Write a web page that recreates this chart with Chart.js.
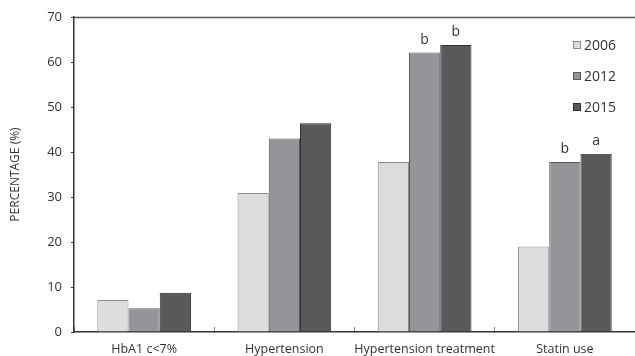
<!DOCTYPE html>
<html>
<head>
<meta charset="utf-8">
<script src="https://cdn.jsdelivr.net/npm/chart.js@4"></script>
<style>
  html, body { margin: 0; padding: 0; background: #fff; }
  #wrap { width: 635px; height: 356px; }
</style>
</head>
<body>
<div id="wrap"><canvas id="chart" width="635" height="356"></canvas></div>
<script>
const categories = ['HbA1 c<7%', 'Hypertension', 'Hypertension treatment', 'Statin use'];
const years = ['2006', '2012', '2015'];
const values2006 = [7.1, 30.9, 37.8, 19.0];
const values2012 = [5.3, 43.0, 62.1, 37.8];
const values2015 = [8.7, 46.4, 63.8, 39.6];
// significance letters above bars
const marks2012 = ['', '', 'b', 'b'];
const marks2015 = ['', '', 'b', 'a'];
const yTicks = [0, 10, 20, 30, 40, 50, 60, 70];

const fills = ['#dcdddf', '#939598', '#58595b'];
const borders = ['#8c8c8c', '#5a5a5a', '#2e2e2e'];
const font = "'Open Sans', 'DejaVu Sans', sans-serif";

const extras = {
  id: 'extras',
  afterDraw(chart) {
    const c = chart.ctx;
    const area = chart.chartArea;
    c.save();
    // top frame line
    c.strokeStyle = '#555';
    c.lineWidth = 1.5;
    c.beginPath();
    c.moveTo(area.left, area.top + 0.5);
    c.lineTo(chart.width, area.top + 0.5);
    c.stroke();

    // letters above bars
    c.fillStyle = '#333';
    c.font = '14px ' + font;
    c.textAlign = 'center';
    c.textBaseline = 'bottom';
    [[1, marks2012], [2, marks2015]].forEach(([di, marks]) => {
      const meta = chart.getDatasetMeta(di);
      meta.data.forEach((bar, i) => {
        if (marks[i]) c.fillText(marks[i], bar.x, bar.y - 6);
      });
    });

    // legend
    c.font = '14px ' + font;
    c.textAlign = 'left';
    c.textBaseline = 'middle';
    chart.data.datasets.forEach((ds, i) => {
      const y = 45 + i * 31;
      c.fillStyle = ds.backgroundColor;
      c.fillRect(573, y - 4, 8, 8);
      c.strokeStyle = ds.borderColor;
      c.lineWidth = 1;
      c.strokeRect(573.5, y - 3.5, 7, 7);
      c.fillStyle = '#333';
      c.fillText(ds.label, 584, y + 1);
    });
    c.restore();
  }
};

new Chart(document.getElementById('chart'), {
  type: 'bar',
  data: {
    labels: categories,
    datasets: [values2006, values2012, values2015].map((vals, i) => ({
      label: years[i],
      data: vals,
      backgroundColor: fills[i],
      borderColor: borders[i],
      borderWidth: 1,
      borderSkipped: 'bottom',
      categoryPercentage: 0.668,
      barPercentage: 1
    }))
  },
  options: {
    responsive: false,
    animation: false,
    events: [],
    layout: { padding: { left: 0, right: 0, top: 17, bottom: 0 } },
    plugins: {
      legend: { display: false },
      tooltip: { enabled: false }
    },
    scales: {
      x: {
        offset: true,
        grid: {
          offset: true,
          drawOnChartArea: false,
          drawTicks: true,
          tickLength: -5,
          color: '#888'
        },
        border: { display: true, color: '#333', width: 1.5 },
        ticks: {
          color: '#333',
          font: { family: font, size: 12.5 },
          padding: 14.5,
          maxRotation: 0,
          autoSkip: false
        },
        afterFit(scale) { scale.height = 24; }
      },
      y: {
        min: 0,
        max: 70,
        afterBuildTicks(scale) { scale.ticks = yTicks.map(v => ({ value: v })); },
        grid: {
          drawOnChartArea: false,
          drawTicks: true,
          tickLength: 3,
          color: '#333'
        },
        border: { display: true, color: '#333', width: 1.5 },
        ticks: {
          color: '#333',
          font: { family: font, size: 13 },
          padding: 9
        },
        title: {
          display: true,
          text: 'PERCENTAGE (%)',
          color: '#333',
          font: { family: font, size: 12 },
          padding: { top: 8, bottom: 0 }
        },
        afterFit(scale) { scale.width = 74; }
      }
    }
  },
  plugins: [extras]
});
</script>
</body>
</html>
